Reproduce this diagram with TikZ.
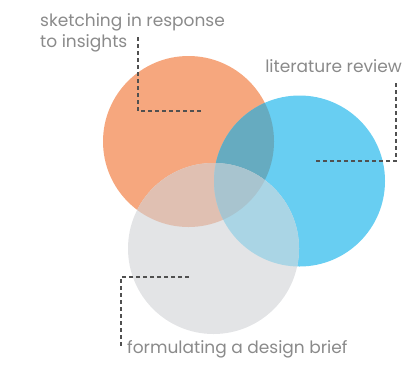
\documentclass[tikz,border=0pt]{standalone}
\usepackage{fontspec}
\setmainfont{Poppins}
\usepackage{xcolor}
\usepackage{tikz}
\usetikzlibrary{positioning}

\definecolor{sketchC}{HTML}{F6A77E}
\definecolor{litC}{HTML}{68CEF2}
\definecolor{briefC}{HTML}{E3E4E6}
\definecolor{sklitC}{HTML}{66ABC0}
\definecolor{skbriefC}{HTML}{E0C0B2}
\definecolor{litbriefC}{HTML}{AAD5E5}
\definecolor{allC}{HTML}{A8C4CF}
\definecolor{labelC}{HTML}{8A8A8A}
\definecolor{leaderC}{HTML}{505050}

\begin{document}
\begin{tikzpicture}[x=1pt,y=-1pt,
  label text/.style={inner sep=0pt,align=left,text=labelC,font=\fontsize{17}{21}\selectfont},
  leader/.style={draw=leaderC,line width=1.1pt,dash pattern=on 4pt off 3pt}
]
\useasboundingbox (0,0) rectangle (419,367);
% circle centres
\coordinate (sk) at (188.5,141.5);
\coordinate (lit) at (299.5,181);
\coordinate (brief) at (213.5,248.5);
\def\rad{85.5pt}
% the three discs
\fill[sketchC] (sk) circle[radius=\rad];
\fill[litC] (lit) circle[radius=\rad];
\fill[briefC] (brief) circle[radius=\rad];
% overlaps
\begin{scope}
  \clip (sk) circle[radius=\rad];
  \fill[sklitC] (lit) circle[radius=\rad];
  \fill[skbriefC] (brief) circle[radius=\rad];
\end{scope}
\begin{scope}
  \clip (lit) circle[radius=\rad];
  \fill[litbriefC] (brief) circle[radius=\rad];
  \clip (sk) circle[radius=\rad];
  \fill[allC] (brief) circle[radius=\rad];
\end{scope}
% labels
\node[label text,anchor=north west] (sketchlbl) at (40,13) {sketching in response\\to insights};
\node[label text,anchor=base east] (litlbl) at (402,72) {literature review};
\node[label text,anchor=base west] (brieflbl) at (127,353) {formulating a design brief};
% leader lines
\coordinate (skA) at (138,37);
\coordinate (skB) at (202,111);
\coordinate (litA) at (396,83);
\coordinate (litB) at (314,161);
\coordinate (brA) at (189,277);
\coordinate (brB) at (121,347);
\draw[leader] (skA) |- (skB);
\draw[leader] (litA) |- (litB);
\draw[leader] (brA) -| (brB);
\end{tikzpicture}
\end{document}
